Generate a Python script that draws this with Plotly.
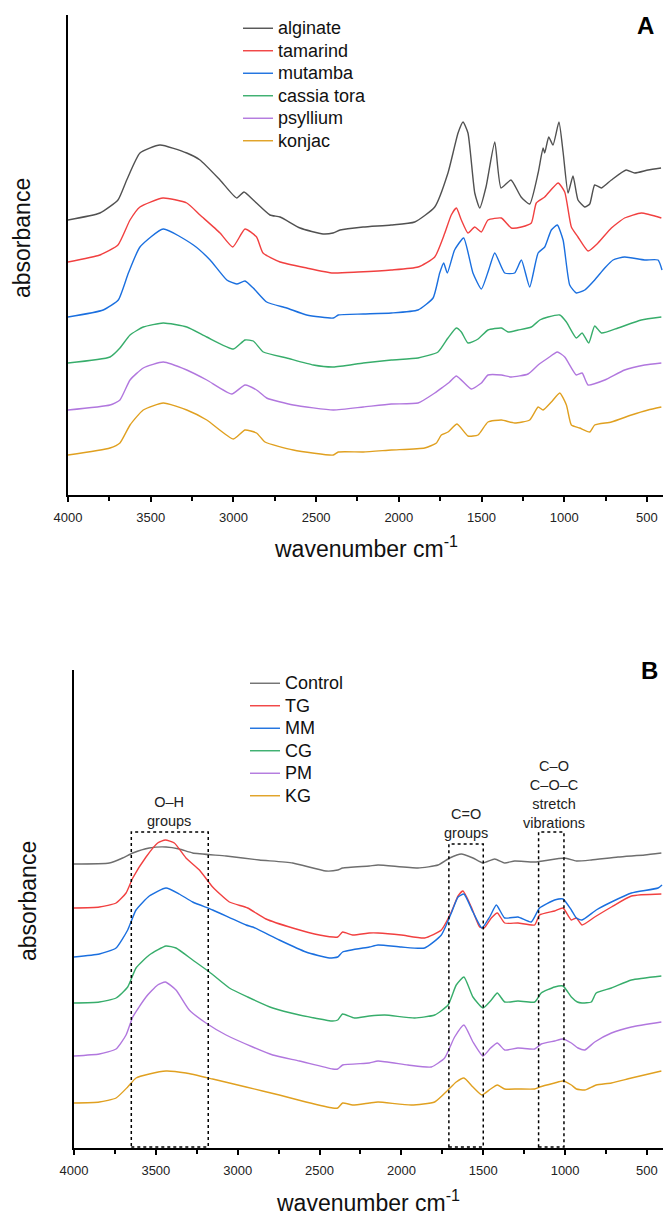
import plotly.graph_objects as go

FONT = "Liberation Sans, Arial, sans-serif"
W, H = 663, 1215

# ---------------- Panel A data (wavenumber cm-1, offset absorbance) ----------------
alginate_wn = [4000, 3807, 3698, 3645, 3565, 3444, 3282, 3202, 3081, 2980, 2936, 2880, 2779, 2718, 2597,
               2458, 2398, 2355, 2216, 2047, 1904, 1783, 1703, 1642, 1612, 1582, 1541, 1511, 1473, 1420,
               1382, 1322, 1261, 1209, 1158, 1128, 1118, 1094, 1068, 1032, 1007, 977, 947, 917, 876,
               846, 816, 775, 715, 626, 574, 493, 415]
alginate_abs = [275, 282, 295, 315, 342, 350, 342, 335, 315, 297, 303, 295, 280, 278, 267,
                261, 262, 265, 268, 270, 273, 288, 322, 362, 373, 362, 302, 287, 308, 353,
                307, 315, 298, 291, 322, 347, 342, 358, 350, 373, 343, 302, 319, 295, 288,
                291, 310, 307, 315, 325, 322, 325, 327]

tamarind_wn = [4000, 3807, 3698, 3625, 3565, 3426, 3282, 3202, 3081, 3004, 2930, 2860, 2821, 2718, 2557,
               2398, 2247, 2047, 1884, 1783, 1722, 1683, 1652, 1622, 1582, 1541, 1501, 1461, 1380, 1320,
               1259, 1199, 1169, 1118, 1037, 997, 957, 917, 856, 796, 715, 635, 534, 413]
tamarind_abs = [233, 240, 250, 275, 288, 297, 292, 280, 262, 248, 266, 258, 242, 233, 227,
                222, 223, 225, 228, 238, 262, 280, 287, 275, 262, 268, 263, 275, 277, 267,
                268, 272, 292, 298, 312, 303, 268, 258, 244, 252, 267, 277, 282, 277]

mutamba_wn = [4000, 3787, 3696, 3635, 3565, 3424, 3242, 3141, 3040, 2980, 2930, 2880, 2799, 2678, 2557,
              2396, 2366, 2215, 2045, 1884, 1793, 1753, 1729, 1707, 1663, 1608, 1552, 1501, 1457, 1420,
              1360, 1300, 1259, 1209, 1158, 1118, 1078, 1042, 1007, 967, 927, 876, 816, 755, 705,
              635, 514, 433, 409]
mutamba_abs = [178, 185, 195, 222, 248, 266, 250, 235, 215, 211, 214, 207, 193, 187, 180,
               177, 180, 181, 182, 185, 197, 222, 232, 222, 245, 257, 222, 206, 225, 242,
               222, 222, 235, 208, 242, 248, 265, 270, 255, 210, 202, 205, 215, 227, 235,
               238, 235, 235, 225]

cassia_wn = [4000, 3746, 3686, 3625, 3545, 3424, 3282, 3161, 3000, 2930, 2880, 2819, 2678, 2517, 2396,
             2215, 2045, 1884, 1763, 1703, 1652, 1622, 1582, 1521, 1461, 1380, 1340, 1279, 1199, 1148,
             1098, 1027, 987, 927, 892, 852, 816, 775, 675, 534, 413]
cassia_abs = [132, 138, 147, 160, 168, 172, 168, 158, 146, 155, 154, 143, 137, 130, 128,
              132, 135, 137, 143, 157, 167, 163, 152, 156, 165, 167, 163, 165, 168, 175,
              178, 180, 173, 157, 162, 152, 169, 162, 167, 175, 178]

psyllium_wn = [4000, 3746, 3686, 3625, 3545, 3424, 3282, 3161, 3010, 2930, 2860, 2799, 2638, 2396, 2215,
               2045, 1884, 1783, 1733, 1693, 1652, 1562, 1501, 1461, 1380, 1320, 1219, 1158, 1098, 1042,
               997, 927, 892, 856, 755, 635, 514, 413]
psyllium_abs = [85, 90, 95, 115, 127, 133, 125, 115, 101, 110, 105, 97, 90, 85, 88,
                91, 92, 102, 108, 113, 119, 106, 112, 120, 120, 118, 121, 130, 137, 143,
                138, 120, 122, 110, 115, 125, 130, 132]

konjac_wn = [4000, 3746, 3686, 3625, 3545, 3424, 3282, 3161, 3000, 2930, 2860, 2809, 2638, 2396, 2366,
             2215, 2045, 1844, 1773, 1743, 1703, 1648, 1582, 1521, 1461, 1380, 1300, 1209, 1158, 1128,
             1078, 1027, 987, 957, 907, 846, 816, 715, 594, 493, 413]
konjac_abs = [40, 47, 52, 70, 85, 92, 85, 75, 56, 65, 62, 53, 45, 40, 43,
              43, 45, 47, 52, 60, 63, 71, 59, 60, 73, 75, 72, 75, 88, 85,
              93, 102, 90, 70, 67, 63, 70, 73, 80, 85, 88]

# ---------------- Panel B data ----------------
control_wn = [4000, 3784, 3703, 3641, 3540, 3438, 3357, 3275, 3071, 2868, 2664, 2461, 2389, 2359, 2196,
              2143, 1899, 1776, 1705, 1634, 1563, 1502, 1430, 1369, 1308, 1186, 1003, 931, 840, 677,
              514, 412]
control_abs = [284, 285, 290, 295, 300, 301, 299, 295, 292, 288, 285, 277, 278, 280, 282,
               283, 280, 283, 290, 294, 290, 285, 289, 285, 287, 286, 290, 287, 288, 291,
               293, 295]

tg_wn = [4000, 3845, 3743, 3682, 3641, 3560, 3489, 3442, 3387, 3316, 3234, 3153, 3051, 2939, 2827,
         2664, 2501, 2389, 2359, 2298, 2196, 2143, 2001, 1858, 1756, 1695, 1654, 1624, 1573, 1522,
         1495, 1451, 1414, 1369, 1288, 1186, 1156, 1064, 1013, 962, 931, 897, 819, 717, 595, 412]
tg_abs = [240, 241, 245, 255, 270, 291, 305, 308, 305, 290, 278, 261, 246, 240, 229,
          220, 213, 211, 216, 213, 215, 215, 213, 210, 218, 236, 252, 257, 241, 221,
          220, 230, 235, 225, 225, 223, 233, 237, 240, 228, 230, 223, 231, 241, 252, 254]

mm_wn = [4000, 3845, 3743, 3672, 3621, 3540, 3438, 3357, 3275, 3153, 2949, 2908, 2746, 2583, 2440,
         2389, 2359, 2196, 2143, 2001, 1858, 1756, 1695, 1654, 1618, 1563, 1508, 1461, 1420, 1369,
         1288, 1207, 1156, 1064, 1013, 962, 931, 897, 810, 717, 595, 432, 408]
mm_abs = [191, 194, 200, 218, 238, 252, 260, 254, 246, 238, 223, 221, 208, 196, 190,
          191, 196, 201, 203, 201, 200, 213, 235, 251, 254, 236, 220, 231, 243, 230,
          231, 226, 240, 248, 249, 238, 230, 228, 238, 246, 255, 260, 263]

cg_wn = [4000, 3845, 3743, 3672, 3621, 3540, 3438, 3377, 3275, 3173, 3051, 2939, 2786, 2623, 2420,
         2389, 2359, 2287, 2196, 2102, 1919, 1797, 1715, 1665, 1618, 1563, 1502, 1451, 1414, 1369,
         1288, 1186, 1146, 1064, 1013, 962, 925, 897, 840, 810, 717, 595, 412]
cg_abs = [145, 146, 150, 161, 180, 193, 202, 200, 188, 176, 160, 151, 140, 133, 127,
          128, 134, 130, 132, 133, 130, 133, 143, 163, 171, 151, 140, 148, 155, 146,
          147, 146, 155, 161, 162, 151, 146, 145, 146, 155, 160, 168, 172]

pm_wn = [4000, 3845, 3743, 3682, 3641, 3560, 3489, 3442, 3377, 3296, 3194, 3071, 2908, 2786, 2623,
         2420, 2389, 2359, 2196, 2143, 1960, 1817, 1736, 1675, 1618, 1563, 1502, 1455, 1414, 1369,
         1288, 1186, 1146, 1064, 1013, 962, 921, 880, 819, 717, 595, 412]
pm_abs = [92, 94, 99, 113, 131, 151, 163, 166, 158, 138, 125, 113, 101, 93, 87,
          79, 79, 83, 85, 87, 83, 81, 90, 111, 123, 106, 92, 100, 105, 98,
          100, 99, 104, 107, 109, 105, 100, 98, 106, 115, 121, 126]

kg_wn = [4000, 3845, 3743, 3672, 3621, 3540, 3438, 3316, 3153, 2949, 2746, 2583, 2420, 2389, 2359,
         2298, 2196, 2143, 1940, 1797, 1715, 1665, 1618, 1563, 1508, 1455, 1414, 1369, 1288, 1186,
         1156, 1064, 1013, 962, 931, 880, 810, 717, 595, 412]
kg_abs = [45, 46, 50, 61, 70, 74, 77, 75, 69, 61, 53, 46, 40, 40, 45,
          43, 45, 46, 43, 46, 58, 66, 70, 61, 53, 59, 63, 59, 59, 59,
          61, 65, 67, 63, 59, 58, 63, 65, 70, 77]

names_a = ["alginate", "tamarind", "mutamba", "cassia tora", "psyllium", "konjac"]
names_b = ["Control", "TG", "MM", "CG", "PM", "KG"]
colors_a = ["#515151", "#F14040", "#1A6FDF", "#37AD6B", "#B177DE", "#E0A020"]
colors_b = ["#6E6E6E", "#F14040", "#1A6FDF", "#37AD6B", "#B177DE", "#E0A020"]

series_a = [(alginate_wn, alginate_abs), (tamarind_wn, tamarind_abs), (mutamba_wn, mutamba_abs),
            (cassia_wn, cassia_abs), (psyllium_wn, psyllium_abs), (konjac_wn, konjac_abs)]
series_b = [(control_wn, control_abs), (tg_wn, tg_abs), (mm_wn, mm_abs),
            (cg_wn, cg_abs), (pm_wn, pm_abs), (kg_wn, kg_abs)]

# regions highlighted in panel B (wavenumber from, to)
box_regions = [(3650, 3180), (1710, 1500), (1162, 1007)]
box_tops = [316, 304, 316]
box_labels = ["O–H<br>groups", "C=O<br>groups", "C–O<br>C–O–C<br>stretch<br>vibrations"]


def legend_name(n):
    return "<span style='font-size:18px'>%s</span>" % n


fig = go.Figure()
for (wn, ab), nm, col in zip(series_a, names_a, colors_a):
    fig.add_trace(go.Scatter(x=wn, y=ab, name=legend_name(nm), mode="lines",
                             line=dict(color=col, width=1.4, shape="spline", smoothing=0.5),
                             xaxis="x", yaxis="y", legend="legend"))
for (wn, ab), nm, col in zip(series_b, names_b, colors_b):
    fig.add_trace(go.Scatter(x=wn, y=ab, name=legend_name(nm), mode="lines",
                             line=dict(color=col, width=1.4, shape="spline", smoothing=0.5),
                             xaxis="x2", yaxis="y2", legend="legend2"))


def px_y(p):
    return 1 - p / H


def px_x(p):
    return p / W


xcommon = dict(showline=True, linewidth=2, linecolor="black", ticks="outside", ticklen=5,
               tickwidth=1.5, tickcolor="black", showgrid=False, zeroline=False,
               tick0=0, dtick=500, tickfont=dict(family=FONT, size=13, color="#222"),
               minor=dict(dtick=250, ticks="outside", ticklen=4, tickwidth=1.5, tickcolor="black"),
               automargin=False, ticklabelstandoff=4)
ycommon = dict(showline=True, linewidth=2, linecolor="black", ticks="", showticklabels=False,
               showgrid=False, zeroline=False, automargin=False)

for (x0, x1), top in zip(box_regions, box_tops):
    fig.add_shape(type="rect", xref="x2", yref="y2", x0=x0, x1=x1, y0=1, y1=top,
                  line=dict(color="black", width=1.5, dash="dot"))

annotations = []
titles = [
    dict(text="absorbance", x=px_x(22), y=px_y(238), textangle=-90),
    dict(text="absorbance", x=px_x(28), y=px_y(901), textangle=-90),
    dict(text="wavenumber cm<sup>-1</sup>", x=px_x(366), y=px_y(547)),
    dict(text="wavenumber cm<sup>-1</sup>", x=px_x(368), y=px_y(1201)),
]
for a in titles:
    annotations.append(dict(xref="paper", yref="paper", showarrow=False, xanchor="center",
                            yanchor="middle", font=dict(family=FONT, size=23, color="#111"), **a))
for t, xx, yy in [("<b>A</b>", 645, 25), ("<b>B</b>", 649, 670)]:
    annotations.append(dict(text=t, x=px_x(xx), y=px_y(yy), xref="paper", yref="paper",
                            xanchor="center", yanchor="middle", showarrow=False,
                            font=dict(family=FONT, size=24, color="black")))
for t, xx, yy in zip(box_labels, [169, 466, 554], [811, 823, 794]):
    annotations.append(dict(text=t, x=px_x(xx), y=px_y(yy), xref="paper", yref="paper",
                            xanchor="center", yanchor="middle", showarrow=False, align="center",
                            font=dict(family=FONT, size=14.5, color="#222")))

fig.update_layout(
    width=W, height=H, margin=dict(l=0, r=0, t=0, b=0),
    paper_bgcolor="white", plot_bgcolor="white",
    xaxis=dict(domain=[px_x(68), 1], range=[4000, 403], anchor="y", **xcommon),
    yaxis=dict(domain=[px_y(495), px_y(15)], range=[0, 480], anchor="x", **ycommon),
    xaxis2=dict(domain=[px_x(74), 1], range=[4000, 402], anchor="y2", **xcommon),
    yaxis2=dict(domain=[px_y(1148), px_y(670)], range=[0, 478], anchor="x2", **ycommon),
    legend=dict(x=px_x(238), y=px_y(12), xanchor="left", yanchor="top",
                font=dict(family=FONT, size=15, color="#111"), bgcolor="rgba(0,0,0,0)",
                borderwidth=0, tracegroupgap=0),
    legend2=dict(x=px_x(245), y=px_y(667), xanchor="left", yanchor="top",
                 font=dict(family=FONT, size=15, color="#111"), bgcolor="rgba(0,0,0,0)",
                 borderwidth=0, tracegroupgap=0),
    annotations=annotations,
    showlegend=True,
)

fig.write_html("out.html", config={"displayModeBar": False},
               post_script="document.body.style.margin='0';document.body.style.padding='0';")
